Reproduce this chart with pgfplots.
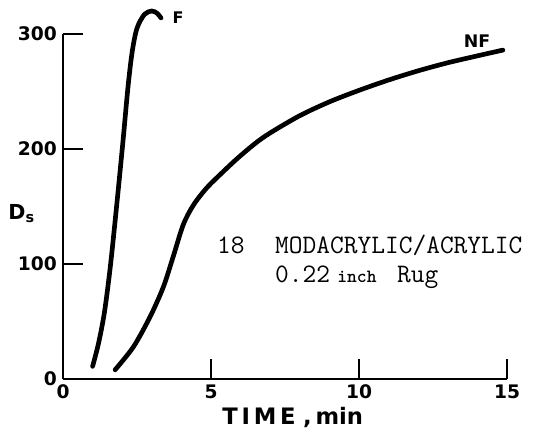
\documentclass[border=0pt]{standalone}
\usepackage{fontspec}
\setmainfont{DejaVu Sans}
\usepackage{pgfplots}
\pgfplotsset{compat=1.18}
\begin{document}
\begin{tikzpicture}
\useasboundingbox (-47.25pt,-42.75pt) rectangle (363pt,284.25pt);
\begin{axis}[
  at={(0,0)}, anchor=south west,
  scale only axis, width=333pt, height=258.75pt,
  xmin=0, xmax=15, ymin=0, ymax=300,
  clip=false,
  axis lines*=left,
  axis line style={line width=2pt, black},
  xtick={0,5,10,15}, ytick={0,100,200,300},
  tick align=inside, major tick length=15pt,
  tick style={line width=1.5pt, black},
  ticklabel style={font=\bfseries\fontsize{14}{16}\selectfont},
  /pgf/number format/assume math mode=true,
  xticklabel style={yshift=-1pt},
  yticklabel style={xshift=-1pt},
  xlabel={T\,I\,M\,E\,\,,\,min},
  xlabel style={at={(axis description cs:0.5175,0)}, anchor=center, yshift=-29pt, font=\bfseries\fontsize{17}{19}\selectfont},
  ylabel={D\textsubscript{s}},
  ylabel style={at={(axis description cs:0,0.48)}, rotate=-90, anchor=center, xshift=-31pt, font=\bfseries\fontsize{15.5}{18}\selectfont},
]
\addplot[black, line width=3.5pt, smooth, tension=0.5, line cap=round] coordinates {
 (1.0,11) (1.2,31) (1.4,58) (1.6,98) (1.81,150) (2.02,205) (2.2,255) (2.34,285) (2.5,305) (2.75,317) (3.0,320) (3.18,318) (3.31,314)
};
\addplot[black, line width=3.5pt, smooth, tension=0.5, line cap=round] coordinates {
 (1.76,8) (2.38,28) (2.94,54) (3.39,80) (3.73,107) (4.06,134) (4.4,151) (4.85,166) (5.4,180) (5.9,192) (6.5,205) (7.0,214) (8.0,229) (9.0,241) (10.0,251) (11.0,260) (12.0,268) (13.0,275) (14.0,281) (14.86,286)
};
\node[font=\bfseries\fontsize{12}{14}\selectfont] at (axis cs:3.89,314) {F};
\node[font=\bfseries\fontsize{13}{15}\selectfont] at (axis cs:13.99,294) {NF};
\node[anchor=base west, inner sep=0pt, font=\ttfamily\fontsize{20}{22}\selectfont] at (axis cs:5.2,108.7) {18};
\node[anchor=base west, inner sep=0pt, font=\ttfamily\fontsize{20}{22}\selectfont] at (axis cs:7.16,108.7) {MODACRYLIC/ACRYLIC};
\node[anchor=base west, inner sep=0pt, font=\ttfamily\fontsize{20}{22}\selectfont] at (axis cs:7.16,84.3) {0.22};
\node[anchor=base west, inner sep=0pt, font=\ttfamily\bfseries\fontsize{14}{16}\selectfont] at (axis cs:9.26,84.3) {inch};
\node[anchor=base west, inner sep=0pt, font=\ttfamily\fontsize{20}{22}\selectfont] at (axis cs:11.28,84.3) {Rug};
\end{axis}
\end{tikzpicture}
\end{document}
